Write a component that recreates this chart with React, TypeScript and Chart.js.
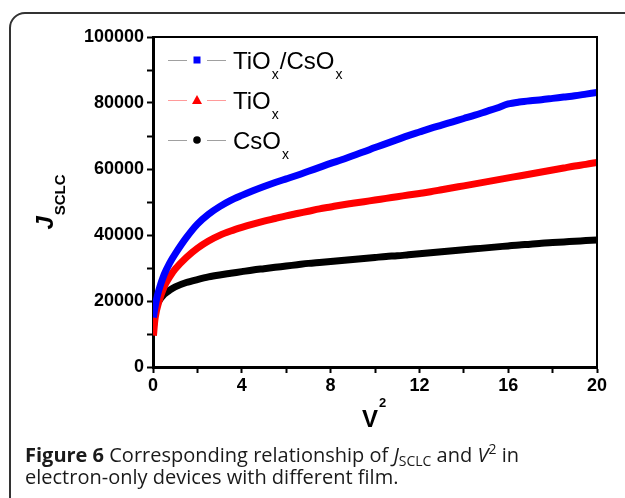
import React, { useEffect, useRef } from "react";
import { Chart, registerables } from "chart.js";

Chart.register(...registerables);

const vSquared = [0.02, 0.1, 0.25, 0.5, 0.75, 1, 1.5, 2, 2.5, 3, 3.5, 4, 4.5, 5, 5.5, 6, 6.5, 7, 7.5, 8, 8.5, 9, 9.5, 10, 10.5, 11, 11.5, 12, 12.5, 13, 13.5, 14, 14.5, 15, 15.5, 16, 16.5, 17, 17.5, 18, 18.5, 19, 19.5, 20];

const tioCso = [15000, 18500, 23000, 28000, 31500, 34300, 39200, 43300, 46300, 48600, 50500, 52000, 53400, 54700, 55900, 57000, 58100, 59300, 60500, 61700, 62800, 64000, 65200, 66500, 67700, 68900, 70100, 71200, 72300, 73300, 74300, 75300, 76300, 77400, 78500, 79700, 80300, 80700, 81000, 81400, 81800, 82200, 82700, 83200];

const tio = [9500, 15000, 19500, 24300, 27300, 29700, 33200, 36000, 38200, 39900, 41200, 42300, 43300, 44200, 45000, 45800, 46500, 47200, 47900, 48500, 49100, 49600, 50100, 50600, 51100, 51600, 52100, 52600, 53100, 53700, 54300, 54900, 55500, 56100, 56700, 57300, 57900, 58500, 59100, 59700, 60300, 60900, 61400, 62000];

const cso = [12000, 17000, 19800, 22000, 23300, 24300, 25600, 26500, 27300, 27900, 28400, 28900, 29400, 29800, 30200, 30600, 31000, 31400, 31700, 32000, 32300, 32600, 32900, 33200, 33500, 33700, 34000, 34300, 34600, 34900, 35200, 35500, 35800, 36100, 36400, 36700, 37000, 37200, 37500, 37700, 37900, 38100, 38300, 38500];

const seriesNames = ["TiOx/CsOx", "TiOx", "CsOx"];
const seriesColors = ["#0000ff", "#ff0000", "#000000"];
const legendLineColors = ["#a0a0a0", "#ff9a9a", "#a0a0a0"];
const legendMarkers = ["rect", "triangle", "circle"];
// legend text parts: [text, isSubscript]
const legendParts: [string, boolean][][] = [
  [["TiO", false], ["x", true], ["/CsO", false], ["x", true]],
  [["TiO", false], ["x", true]],
  [["CsO", false], ["x", true]],
];

const xTickValues = { min: 0, max: 20, step: 2, labelEvery: 4 };
const yTickValues = { min: 0, max: 100000, step: 10000, labelEvery: 20000 };

const FONT = "'Liberation Sans', Arial, sans-serif";

const overlayPlugin = {
  id: "overlay",
  afterDraw(chart: any) {
    const ctx = chart.ctx;
    const a = chart.chartArea;
    ctx.save();
    // top & right frame
    ctx.strokeStyle = "#000";
    ctx.lineWidth = 2;
    ctx.beginPath();
    ctx.moveTo(a.left, a.top);
    ctx.lineTo(a.right, a.top);
    ctx.lineTo(a.right, a.bottom);
    ctx.stroke();

    // legend
    const rowY = [60, 100, 140];
    for (let i = 0; i < 3; i++) {
      const y = rowY[i];
      ctx.strokeStyle = legendLineColors[i];
      ctx.lineWidth = 1;
      ctx.beginPath();
      ctx.moveTo(168, y + 0.5);
      ctx.lineTo(187, y + 0.5);
      ctx.moveTo(207, y + 0.5);
      ctx.lineTo(226, y + 0.5);
      ctx.stroke();
      ctx.fillStyle = seriesColors[i];
      const mx = 197;
      if (legendMarkers[i] === "rect") {
        ctx.fillRect(mx - 3.5, y - 3.5, 7, 7);
      } else if (legendMarkers[i] === "triangle") {
        ctx.beginPath();
        ctx.moveTo(mx, y - 5);
        ctx.lineTo(mx + 5, y + 4);
        ctx.lineTo(mx - 5, y + 4);
        ctx.closePath();
        ctx.fill();
      } else {
        ctx.beginPath();
        ctx.arc(mx, y, 3.8, 0, Math.PI * 2);
        ctx.fill();
      }
      let tx = 233;
      ctx.fillStyle = "#000";
      ctx.textBaseline = "alphabetic";
      ctx.textAlign = "left";
      for (const [t, sub] of legendParts[i]) {
        if (sub) {
          ctx.font = `14px ${FONT}`;
          ctx.fillText(t, tx + 1, y + 19);
          tx += ctx.measureText(t).width + 2;
        } else {
          ctx.font = `24px ${FONT}`;
          ctx.fillText(t, tx, y + 9);
          tx += ctx.measureText(t).width;
        }
      }
    }

    // x axis title V^2
    ctx.fillStyle = "#000";
    ctx.font = `bold 24px ${FONT}`;
    ctx.textAlign = "left";
    ctx.fillText("V", 362, 427);
    const vw = ctx.measureText("V").width;
    ctx.font = `bold 13px ${FONT}`;
    ctx.fillText("2", 362 + vw + 1, 407);

    // y axis title J_SCLC
    ctx.save();
    ctx.translate(53, 202);
    ctx.rotate(-Math.PI / 2);
    ctx.font = `bold italic 24px ${FONT}`;
    const jw = ctx.measureText("J").width;
    ctx.font = `bold 15px ${FONT}`;
    const sw = ctx.measureText("SCLC").width;
    const start = -(jw + sw + 1) / 2;
    ctx.font = `bold italic 24px ${FONT}`;
    ctx.fillText("J", start, 0);
    ctx.font = `bold 15px ${FONT}`;
    ctx.fillText("SCLC", start + jw + 1, 12);
    ctx.restore();

    ctx.restore();
  },
};

export default function App() {
  const ref = useRef<HTMLCanvasElement | null>(null);
  useEffect(() => {
    if (!ref.current) return;
    const mk = (vals: number[]) => vSquared.map((x, i) => ({ x, y: vals[i] }));
    const all = [tioCso, tio, cso];
    const chart = new Chart(ref.current, {
      type: "line",
      data: {
        datasets: all.map((vals, i) => ({
          label: seriesNames[i],
          data: mk(vals),
          borderColor: seriesColors[i],
          backgroundColor: seriesColors[i],
          borderWidth: 7,
          pointRadius: 0,
          tension: 0.3,
          fill: false,
        })),
      },
      options: {
        responsive: false,
        animation: false,
        layout: { padding: { top: 37, right: 28, left: 0, bottom: 0 } },
        plugins: { legend: { display: false }, tooltip: { enabled: false } },
        scales: {
          x: {
            type: "linear",
            min: xTickValues.min,
            max: xTickValues.max,
            afterFit: (s: any) => { s.height = 131; },
            border: { display: true, color: "#000", width: 3 },
            grid: { drawOnChartArea: false, drawTicks: true, tickLength: 6, tickWidth: 2, tickColor: "#000" },
            ticks: {
              stepSize: xTickValues.step,
              padding: 2,
              color: "#000",
              font: { family: FONT, size: 18, weight: "bold" },
              maxRotation: 0,
              autoSkip: false,
              callback: (v: any) => (Number(v) % xTickValues.labelEvery === 0 ? String(v) : ""),
            },
          },
          y: {
            type: "linear",
            min: yTickValues.min,
            max: yTickValues.max,
            afterFit: (s: any) => { s.width = 153; },
            border: { display: true, color: "#000", width: 3 },
            grid: { drawOnChartArea: false, drawTicks: true, tickLength: 6, tickWidth: 2, tickColor: "#000" },
            ticks: {
              stepSize: yTickValues.step,
              padding: 3,
              color: "#000",
              font: { family: FONT, size: 18, weight: "bold" },
              autoSkip: false,
              callback: (v: any) => (Number(v) % yTickValues.labelEvery === 0 ? String(v) : ""),
            },
          },
        },
      } as any,
      plugins: [overlayPlugin],
    });
    return () => chart.destroy();
  }, []);

  const subStyle: React.CSSProperties = { fontSize: 14, position: "relative", top: 4, lineHeight: 0 };
  const supStyle: React.CSSProperties = { fontSize: 14, position: "relative", top: -8, lineHeight: 0 };

  return (
    <div style={{ position: "fixed", left: 0, top: 0, width: 625, height: 498, overflow: "hidden", background: "#fff" }}>
      <div
        style={{
          position: "absolute",
          left: 9,
          top: 12,
          width: 700,
          height: 600,
          border: "2px solid #333",
          borderRadius: 16,
          boxSizing: "border-box",
        }}
      />
      <canvas ref={ref} width={625} height={498} style={{ position: "absolute", left: 0, top: 0, width: 625, height: 498 }} />
      <div
        style={{
          position: "absolute",
          left: 25,
          top: 444,
          fontFamily: "'Open Sans', sans-serif",
          fontSize: 20,
          lineHeight: "22px",
          color: "#1a1a1a",
          whiteSpace: "nowrap",
        }}
      >
        <b>Figure 6</b> Corresponding relationship of <i>J</i>
        <span style={subStyle}>SCLC</span> and <i>V</i>
        <span style={supStyle}>2</span> in
        <br />
        electron-only devices with different film.
      </div>
    </div>
  );
}
